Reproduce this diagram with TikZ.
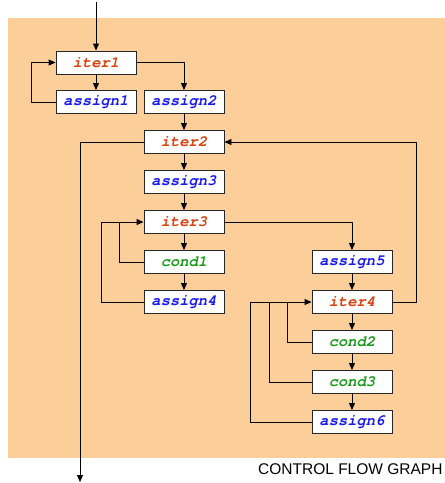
\documentclass[tikz,border=0pt]{standalone}
\usepackage{fontspec}
\setmainfont{Liberation Sans}
\newfontfamily\codefont{texgyrecursor}[Extension=.otf, UprightFont=*-regular, BoldFont=*-bold, ItalicFont=*-italic, BoldItalicFont=*-bolditalic]
\usetikzlibrary{arrows.meta}
\definecolor{bgpeach}{HTML}{FCCF9A}
\definecolor{itercol}{HTML}{D8400C}
\definecolor{assigncol}{HTML}{1818F0}
\definecolor{condcol}{HTML}{1A9A1A}
\begin{document}
\begin{tikzpicture}[x=1pt,y=-1pt,
  box/.style={draw=black!85, line width=0.9pt, fill=white, minimum width=80pt, minimum height=23pt, inner sep=0pt, font=\codefont\bfseries\itshape\fontsize{15.5}{16}\selectfont},
  iterbox/.style={box, text=itercol},
  assignbox/.style={box, text=assigncol},
  condbox/.style={box, text=condcol},
  flow/.style={line width=0.9pt, -{Triangle[length=7pt,width=6pt]}},
  plain/.style={line width=0.9pt}]
\useasboundingbox (0,0) rectangle (445,483);
\fill[bgpeach] (8,18) rectangle (445,457.5);
% nodes
\node[iterbox] (iter1) at (96,62.5) {iter1};
\node[assignbox] (assign1) at (96,102) {assign1};
\node[assignbox] (assign2) at (184,102) {assign2};
\node[iterbox] (iter2) at (184,142) {iter2};
\node[assignbox] (assign3) at (184,182) {assign3};
\node[iterbox] (iter3) at (184,222) {iter3};
\node[condbox] (cond1) at (184,262) {cond1};
\node[assignbox] (assign4) at (184,302) {assign4};
\node[assignbox] (assign5) at (352,262) {assign5};
\node[iterbox] (iter4) at (352,302) {iter4};
\node[condbox] (cond2) at (352,342) {cond2};
\node[condbox] (cond3) at (352,382) {cond3};
\node[assignbox] (assign6) at (352,422) {assign6};
\coordinate (entry) at (96,2);
\coordinate (exit) at (80,482);
% connectors
\draw[flow] (entry) -- (iter1);
\draw[flow] (iter1) -- (assign1);
\draw[flow] (iter1.east) -| (assign2.north);
\draw[flow] (assign1.west) -- ++(-24,0) |- (iter1.west);
\draw[flow] (assign2) -- (iter2);
\draw[flow] (iter2.west) -| (exit);
\draw[flow] (iter2) -- (assign3);
\draw[flow] (assign3) -- (iter3);
\draw[flow] (iter3) -- (cond1);
\draw[flow] (cond1) -- (assign4);
\draw[plain] (cond1.west) -| ([xshift=-24pt]iter3.west);
\draw[flow] (assign4.west) -- ++(-42.5,0) |- (iter3.west);
\draw[flow] (iter3.east) -| (assign5.north);
\draw[flow] (assign5) -- (iter4);
\draw[flow] (iter4.east) -- ++(24,0) |- (iter2.east);
\draw[flow] (iter4) -- (cond2);
\draw[flow] (cond2) -- (cond3);
\draw[flow] (cond3) -- (assign6);
\draw[plain] (cond2.west) -| ([xshift=-23.7pt]iter4.west);
\draw[plain] (cond3.west) -| ([xshift=-42.3pt]iter4.west);
\draw[flow] (assign6.west) -- ++(-61,0) |- (iter4.west);
\node[anchor=base west, font=\fontsize{15.5}{17}\selectfont, inner sep=0pt] (title) at (258,474) {CONTROL FLOW GRAPH};
\end{tikzpicture}
\end{document}
